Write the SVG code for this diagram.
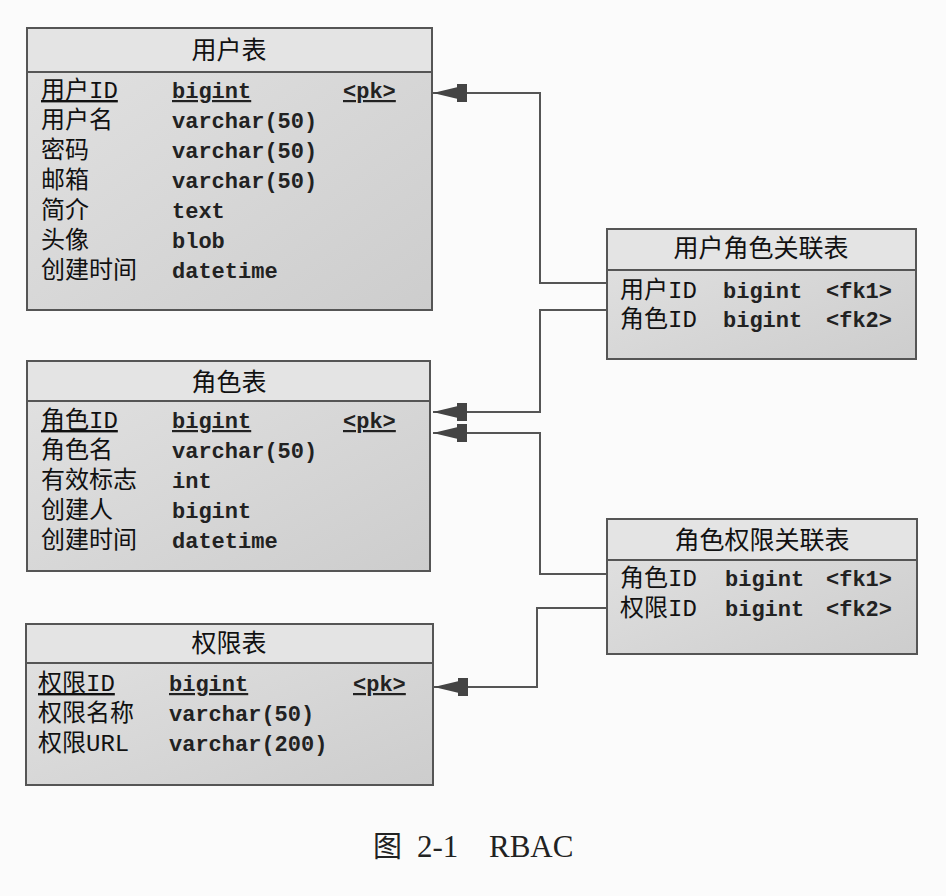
<svg xmlns="http://www.w3.org/2000/svg" width="946" height="896" viewBox="0 0 946 896">
<defs>
<linearGradient id="bodyG" x1="0" y1="0" x2="1" y2="1">
<stop offset="0" stop-color="#e2e2e2"/>
<stop offset="1" stop-color="#cdcdcd"/>
</linearGradient>
<marker id="ref" markerUnits="userSpaceOnUse" markerWidth="40" markerHeight="24" viewBox="0 -12 40 24" refX="0" refY="0" orient="auto">
<polygon points="0,0 25,-6 25,6" fill="#444"/>
<rect x="24" y="-9" width="10" height="18" fill="#444"/>
</marker>
<style>
.box{fill:url(#bodyG);stroke:#555;stroke-width:2}
.hdr{fill:#e4e4e4;stroke:none}
.div{stroke:#555;stroke-width:2}
.ttl{font-family:"Noto Sans CJK SC",sans-serif;font-size:25px;fill:#111;text-anchor:middle}
.nm{font-family:"Liberation Mono","Noto Sans CJK SC",monospace;font-size:24px;fill:#111}
.tp{font-family:"Liberation Mono","Noto Sans CJK SC",monospace;font-size:22px;fill:#222;font-weight:bold}
.u{text-decoration:underline}
.con{fill:none;stroke:#555;stroke-width:2;marker-start:url(#ref)}
.cap{font-family:"Liberation Serif","Noto Sans CJK SC",serif;font-size:31px;fill:#222}
</style>
</defs>
<rect width="946" height="896" fill="#fbfbfb"/>

<g id="connectors">
<path class="con" d="M433,93 H540 V283 H607"/>
<path class="con" d="M433,412 H540 V310 H607"/>
<path class="con" d="M433,433 H540 V574 H607"/>
<path class="con" d="M434,687 H537 V608 H607"/>
</g>

<g id="user">
<rect class="box" x="27" y="28" width="405" height="282"/>
<rect class="hdr" x="28" y="29" width="403" height="43"/>
<line class="div" x1="27" y1="72" x2="432" y2="72"/>
<text class="ttl" x="229" y="59">用户表</text>
<text class="nm u" x="41" y="98">用户ID</text><text class="tp u" x="172" y="98">bigint</text><text class="tp u" x="343" y="98">&lt;pk&gt;</text>
<text class="nm" x="41" y="128">用户名</text><text class="tp" x="172" y="128">varchar(50)</text>
<text class="nm" x="41" y="158">密码</text><text class="tp" x="172" y="158">varchar(50)</text>
<text class="nm" x="41" y="188">邮箱</text><text class="tp" x="172" y="188">varchar(50)</text>
<text class="nm" x="41" y="218">简介</text><text class="tp" x="172" y="218">text</text>
<text class="nm" x="41" y="248">头像</text><text class="tp" x="172" y="248">blob</text>
<text class="nm" x="41" y="278">创建时间</text><text class="tp" x="172" y="278">datetime</text>
</g>

<g id="role">
<rect class="box" x="27" y="361" width="403" height="210"/>
<rect class="hdr" x="28" y="362" width="401" height="39"/>
<line class="div" x1="27" y1="401" x2="430" y2="401"/>
<text class="ttl" x="229" y="391">角色表</text>
<text class="nm u" x="41" y="428">角色ID</text><text class="tp u" x="172" y="428">bigint</text><text class="tp u" x="343" y="428">&lt;pk&gt;</text>
<text class="nm" x="41" y="458">角色名</text><text class="tp" x="172" y="458">varchar(50)</text>
<text class="nm" x="41" y="488">有效标志</text><text class="tp" x="172" y="488">int</text>
<text class="nm" x="41" y="518">创建人</text><text class="tp" x="172" y="518">bigint</text>
<text class="nm" x="41" y="548">创建时间</text><text class="tp" x="172" y="548">datetime</text>
</g>

<g id="permission">
<rect class="box" x="26" y="624" width="407" height="161"/>
<rect class="hdr" x="27" y="625" width="405" height="38"/>
<line class="div" x1="26" y1="663" x2="433" y2="663"/>
<text class="ttl" x="229" y="652">权限表</text>
<text class="nm u" x="38" y="691">权限ID</text><text class="tp u" x="169" y="691">bigint</text><text class="tp u" x="353" y="691">&lt;pk&gt;</text>
<text class="nm" x="38" y="721">权限名称</text><text class="tp" x="169" y="721">varchar(50)</text>
<text class="nm" x="38" y="751">权限URL</text><text class="tp" x="169" y="751">varchar(200)</text>
</g>

<g id="user_role">
<rect class="box" x="607" y="229" width="309" height="130"/>
<rect class="hdr" x="608" y="230" width="307" height="40"/>
<line class="div" x1="607" y1="270" x2="916" y2="270"/>
<text class="ttl" x="761" y="257">用户角色关联表</text>
<text class="nm" x="620" y="298">用户ID</text><text class="tp" x="723" y="298">bigint</text><text class="tp" x="826" y="298">&lt;fk1&gt;</text>
<text class="nm" x="620" y="327">角色ID</text><text class="tp" x="723" y="327">bigint</text><text class="tp" x="826" y="327">&lt;fk2&gt;</text>
</g>

<g id="role_permission">
<rect class="box" x="607" y="519" width="310" height="135"/>
<rect class="hdr" x="608" y="520" width="308" height="40"/>
<line class="div" x1="607" y1="560" x2="917" y2="560"/>
<text class="ttl" x="762" y="549">角色权限关联表</text>
<text class="nm" x="620" y="586">角色ID</text><text class="tp" x="725" y="586">bigint</text><text class="tp" x="826" y="586">&lt;fk1&gt;</text>
<text class="nm" x="620" y="616">权限ID</text><text class="tp" x="725" y="616">bigint</text><text class="tp" x="826" y="616">&lt;fk2&gt;</text>
</g>

<g id="caption">
<text class="cap" x="373" y="857" style="font-size:29px">图</text>
<text class="cap" x="417" y="857">2-1</text>
<text class="cap" x="489" y="857">RBAC</text>
</g>
</svg>
